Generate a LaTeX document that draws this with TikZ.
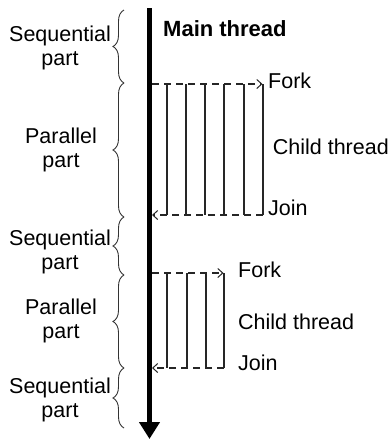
\documentclass[tikz,border=0pt]{standalone}
\usepackage{fontspec}
\setmainfont{Liberation Sans}
\usetikzlibrary{arrows.meta,decorations.pathreplacing}

\begin{document}
\begin{tikzpicture}[x=1pt,y=-1pt,
  lbl/.style={font=\fontsize{21.5}{24.5}\selectfont, inner sep=0pt},
  sidelbl/.style={lbl, align=center},
  thread/.style={line width=1.1pt, draw=black!85},
  forkjoin/.style={thread, dash pattern=on 7pt off 5pt,
    -{Straight Barb[length=5pt,width=9pt,line width=1pt]}},
  bracestyle/.style={draw=black!80, line width=0.9pt, decorate,
    decoration={brace, amplitude=11pt}},
]
\useasboundingbox (0,0) rectangle (390,440);

% main thread
\coordinate (mtop) at (149.5,8);
\coordinate (mbot) at (149.5,439);
\draw[line width=5pt, -{Triangle[length=17pt,width=20pt]}] (mtop) -- (mbot);
\node[lbl, font=\bfseries\fontsize{22}{24}\selectfont, anchor=base west]
  (mlabel) at (163,36) {Main thread};

% first parallel region: six child threads
\coordinate (fork1) at (152,84);
\coordinate (fork1end) at (262.5,84);
\coordinate (join1start) at (263,215);
\coordinate (join1) at (152,215);
\foreach \x in {167,186,205,224,244,263}
  \draw[thread] (\x,84) -- (\x,215);
\draw[forkjoin] (fork1) -- (fork1end);
\draw[forkjoin] (join1start) -- (join1);
\node[lbl, anchor=west] (forkA) at (268,81) {Fork};
\node[lbl, anchor=east] (childA) at (389,147) {Child thread};
\node[lbl, anchor=west] (joinA) at (268,208) {Join};

% second parallel region: four child threads
\coordinate (fork2) at (152,273);
\coordinate (fork2end) at (223.5,273);
\coordinate (join2start) at (224,368);
\coordinate (join2) at (152,368);
\foreach \x in {167,187,206,224}
  \draw[thread] (\x,273) -- (\x,368);
\draw[forkjoin] (fork2) -- (fork2end);
\draw[forkjoin] (join2start) -- (join2);
\node[lbl, anchor=west] (forkB) at (238,270) {Fork};
\node[lbl, anchor=west] (childB) at (238,322) {Child thread};
\node[lbl, anchor=west] (joinB) at (238,363) {Join};

% braces marking the program phases
\foreach \a/\b in {10/83, 83/217, 217/275, 275/368, 368/428}
  \draw[bracestyle] (124,\b) -- (124,\a);

\node[sidelbl] (seqA) at (60,48) {Sequential\\part};
\node[sidelbl] (parA) at (61,150) {Parallel\\part};
\node[sidelbl] (seqB) at (60,252) {Sequential\\part};
\node[sidelbl] (parB) at (61,321) {Parallel\\part};
\node[sidelbl] (seqC) at (60,400) {Sequential\\part};
\end{tikzpicture}
\end{document}
